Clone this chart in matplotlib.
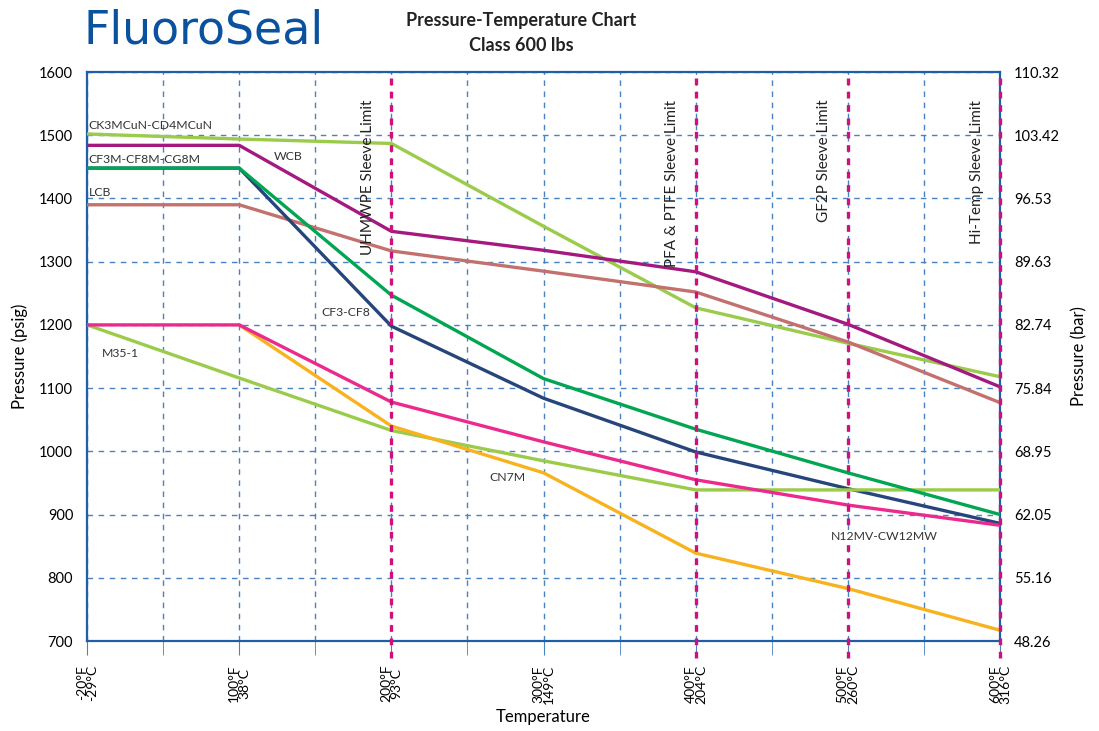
import matplotlib
matplotlib.use("Agg")
import matplotlib.pyplot as plt

plt.rcParams["font.family"] = ["Lato", "DejaVu Sans"]

# x positions are evenly spaced temperature steps
temp_labels = ["-20°F\n-29°C", "100°F\n38°C", "200°F\n93°C", "300°F\n149°C",
               "400°F\n204°C", "500°F\n260°C", "600°F\n316°C"]
steps = [0, 1, 2, 3, 4, 5, 6]

psig_ticks = [700, 800, 900, 1000, 1100, 1200, 1300, 1400, 1500, 1600]
bar_labels = ["48.26", "55.16", "62.05", "68.95", "75.84", "82.74",
              "89.63", "96.53", "103.42", "110.32"]

ck3mcun = [1502, 1494, 1487, 1356, 1227, 1171, 1118]
wcb = [1484, 1484, 1348, 1318, 1284, 1201, 1102]
lcb = [1390, 1390, 1317, 1285, 1252, 1173, 1077]
cf3_cf8 = [1448, 1448, 1198, 1084, 999, 941, 886]
cf3m = [1448, 1448, 1247, 1115, 1035, 966, 900]
n12mv = [1200, 1200, 1078, 1015, 955, 915, 883]
cn7m_x = [1, 2, 3, 4, 5, 6]
cn7m = [1200, 1040, 966, 839, 783, 717]
m35 = [1200, 1116, 1033, 985, 939, 939, 939]

sleeve_pos = [2, 4, 5, 6]
sleeve_names = ["UHMWPE Sleeve Limit", "PFA & PTFE Sleeve Limit",
                "GF2P Sleeve Limit", "Hi-Temp Sleeve Limit"]

blue = "#1f5fa8"
grid_blue = "#4a82bf"
magenta = "#d0117a"
lgreen = "#9bcb4a"

fig = plt.figure(figsize=(10.99, 7.31), dpi=100)
ax = fig.add_axes([0.0792, 0.1231, 0.8308, 0.7784])

lw = 2.4
ax.plot(steps, ck3mcun, color=lgreen, lw=lw, zorder=4)
ax.plot(steps, lcb, color="#c3716e", lw=lw, zorder=4)
ax.plot(steps, wcb, color="#a4197f", lw=lw, zorder=5)
ax.plot(steps, cf3_cf8, color="#26457a", lw=lw, zorder=4)
ax.plot(steps, cf3m, color="#00a651", lw=lw, zorder=5)
ax.plot(steps, m35, color=lgreen, lw=lw, zorder=4)
ax.plot(cn7m_x, cn7m, color="#f7b21e", lw=lw, zorder=4)
ax.plot(steps, n12mv, color="#ec2a8e", lw=lw, zorder=5)

ax.set_xlim(0, 6)
ax.set_ylim(700, 1600)
ax.set_xticks(steps)
ax.set_xticks([s + 0.5 for s in steps[:-1]], minor=True)
ax.set_xticklabels(temp_labels, rotation=90, fontsize=10, linespacing=0.85)
ax.set_yticks(psig_ticks)
ax.tick_params(axis="y", length=0, labelsize=10.5, pad=10)
ax.tick_params(axis="x", which="both", length=10, color=grid_blue, pad=7)

ax.grid(True, which="both", axis="x", color=grid_blue, ls=(0, (4, 4)), lw=1)
ax.grid(True, which="major", axis="y", color=grid_blue, ls=(0, (4, 4)), lw=1)
for s in ax.spines.values():
    s.set_color(blue)
    s.set_linewidth(1.6)

for xp, name in zip(sleeve_pos, sleeve_names):
    ax.axvline(xp, ymin=-0.03, ymax=1, color=magenta, ls=(0, (2, 2)), lw=2.4,
               zorder=6, clip_on=False)
    ax.text(xp - 0.155, 1556, name, rotation=90, ha="center", va="top",
            fontsize=11, color="#222222", zorder=7)

label_box = dict(facecolor="white", edgecolor="none", pad=1)
ax.text(0.01, 1516, "CK3MCuN-CD4MCuN", fontsize=8.8, ha="left", va="center",
        color="#333333", zorder=7)
ax.text(0.01, 1462, "CF3M-CF8M-CG8M", fontsize=8.8, ha="left", va="center",
        color="#333333", zorder=7)
ax.text(0.01, 1409, "LCB", fontsize=8.8, ha="left", va="center",
        color="#333333", zorder=7)
ax.text(1.32, 1466, "WCB", fontsize=8.8, ha="center", va="center",
        color="#333333", zorder=7)
ax.text(1.70, 1219, "CF3-CF8", fontsize=8.8, ha="center", va="center",
        color="#333333", zorder=7)
ax.text(0.22, 1154, "M35-1", fontsize=8.8, ha="center", va="center",
        color="#333333", zorder=7)
ax.text(2.76, 958, "CN7M", fontsize=8.8, ha="center", va="center",
        color="#333333", bbox=label_box, zorder=7)
ax.text(5.24, 865, "N12MV-CW12MW", fontsize=8.8, ha="center", va="center",
        color="#333333", bbox=label_box, zorder=7)

ax.set_ylabel("Pressure (psig)", fontsize=12, labelpad=8)
ax.set_xlabel("Temperature", fontsize=12)
ax.xaxis.set_label_coords(0.5, -0.119)

ax2 = ax.twinx()
ax2.set_ylim(700, 1600)
ax2.set_yticks(psig_ticks)
ax2.set_yticklabels(bar_labels)
ax2.tick_params(axis="y", length=0, labelsize=10.5, pad=10)
ax2.set_ylabel("Pressure (bar)", fontsize=12, labelpad=8)
for s in ax2.spines.values():
    s.set_visible(False)

fig.text(0.474, 0.972, "Pressure-Temperature Chart", ha="center", va="center",
         fontsize=13, fontweight="bold", color="#222222")
fig.text(0.474, 0.938, "Class 600 lbs", ha="center", va="center",
         fontsize=13, fontweight="bold", color="#222222")
fig.text(0.076, 0.958, "FluoroSeal", ha="left", va="center", fontsize=33,
         color="#0a519e", family=["DejaVu Sans"])

fig.savefig("out.png", dpi=100)
